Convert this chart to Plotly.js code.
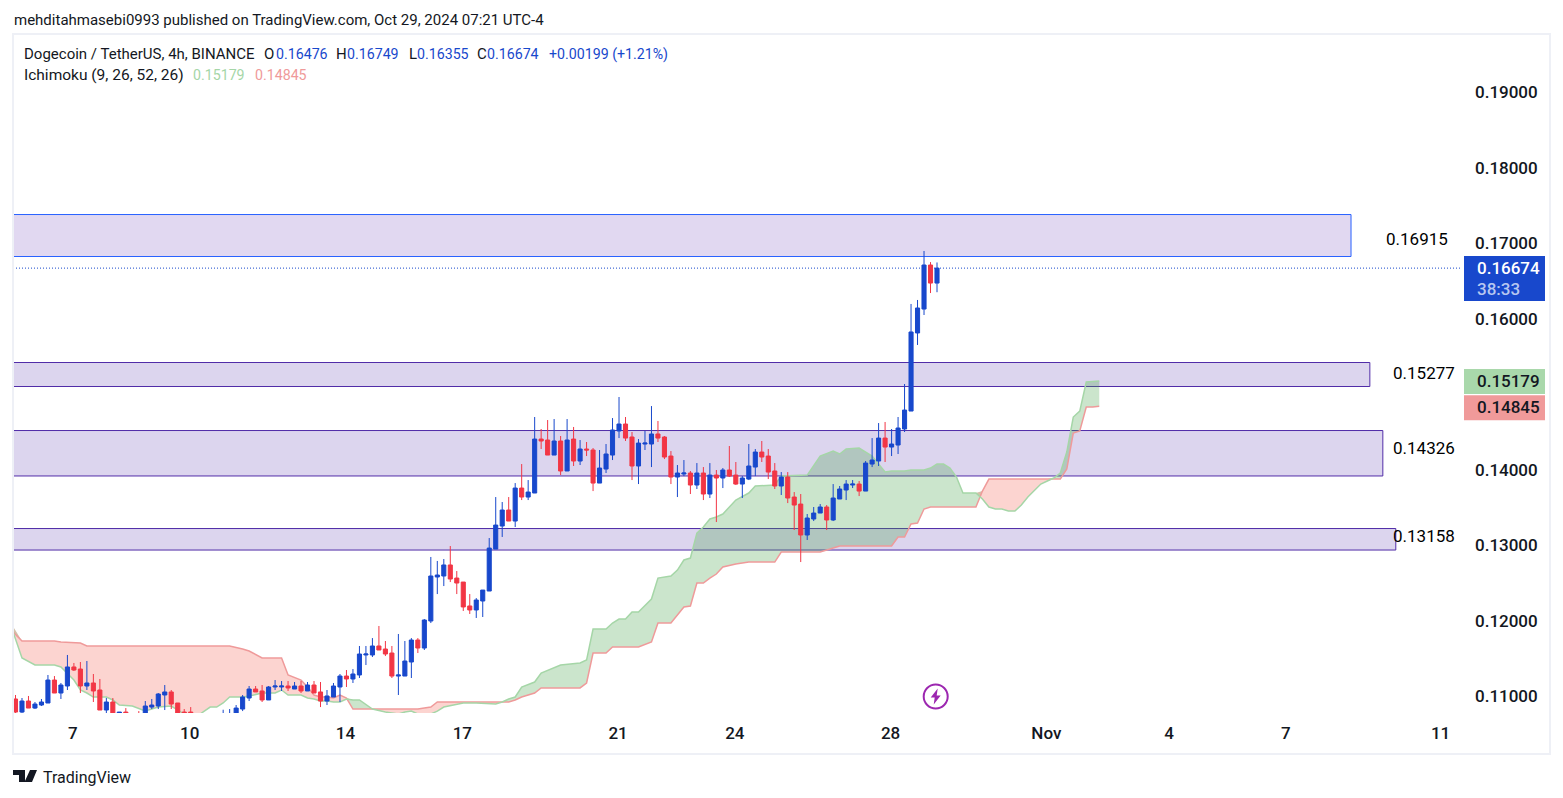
<!DOCTYPE html>
<html><head><meta charset="utf-8">
<script src="https://cdn.plot.ly/plotly-3.0.1.min.js"></script>
<style>html,body{margin:0;padding:0;background:#fff}#c{width:1563px;height:798px}</style>
</head><body><div id="c"></div>
<script>
const opens=[.10967,.10794,.10940,.10847,.10887,.10914,.11218,.11046,.11139,.11391,
.11364,.11139,.11179,.11086,.10821,.10927,.10741,.10794,.10754,.10768,
.10741,.10860,.10874,.11020,.11060,.10914,.10794,.10794,.10760,.10700,
.10740,.10710,.10720,.10750,.10760,.10834,.10980,.11099,.11073,.10954,
.11126,.11126,.11139,.11099,.11139,.11073,.11152,.11060,.10940,.10993,
.11126,.11271,.11232,.11285,.11550,.11550,.11669,.11629,.11576,.11271,
.11271,.11457,.11748,.11642,.12000,.12583,.12596,.12742,.12569,.12516,
.12199,.12146,.12265,.12397,.12953,.13258,.13470,.13324,.13761,.13642,
.13695,.14410,.14397,.14198,.14384,.13987,.14410,.14119,.14278,.14265,
.13827,.14013,.14198,.14517,.14609,.14437,.14053,.14344,.14344,.14477,
.14437,.14185,.13907,.13947,.13960,.13801,.13960,.13682,.13933,.13894,
.14000,.13933,.13814,.13880,.14039,.14238,.14185,.13987,.13788,.13907,
.13642,.13549,.13139,.13351,.13430,.13510,.13338,.13616,.13735,.13801,
.13814,.13721,.14079,.14119,.14423,.14304,.14331,.14543,.14781,.15815,
.16132,.16715,.16476];
const highs=[.11020,.10980,.11007,.10927,.10967,.11285,.11271,.11179,.11550,.11444,
.11457,.11470,.11298,.11232,.10980,.10980,.10794,.10847,.10760,.10807,
.10940,.10967,.11046,.11152,.11086,.10914,.10834,.10860,.10770,.10760,
.10770,.10765,.10825,.10834,.10887,.11020,.11139,.11139,.11152,.11139,
.11218,.11205,.11205,.11192,.11205,.11192,.11205,.11192,.11086,.11179,
.11298,.11351,.11364,.11669,.11669,.11774,.11934,.11735,.11669,.11828,
.11735,.11774,.11774,.12026,.12848,.12795,.12821,.12993,.12662,.12516,
.12357,.12304,.12410,.13099,.13642,.13576,.13642,.13827,.14079,.13867,
.14702,.14543,.14662,.14675,.14450,.14675,.14570,.14397,.14371,.14291,
.14265,.14344,.14688,.14967,.14702,.14503,.14410,.14517,.14847,.14649,
.14450,.14251,.14066,.14132,.13987,.14092,.14039,.14092,.14000,.14026,
.14318,.14106,.13920,.14344,.14278,.14384,.14278,.14092,.13973,.13973,
.13708,.13682,.13417,.13510,.13549,.13536,.13814,.13788,.13867,.13867,
.13854,.14119,.14423,.14622,.14636,.14543,.14702,.15139,.16199,.16252,
.16901,.16754,.16749];
const lows=[.10781,.10768,.10847,.10834,.10874,.10914,.11046,.10967,.11086,.11338,
.11046,.11086,.10927,.10821,.10781,.10741,.10715,.10715,.10688,.10701,
.10715,.10834,.10834,.10821,.10834,.10768,.10741,.10741,.10690,.10680,
.10690,.10680,.10700,.10720,.10740,.10807,.10940,.11060,.10927,.10954,
.11086,.11073,.11073,.11099,.11046,.11073,.11046,.10860,.10887,.10993,
.10927,.11126,.11179,.11245,.11417,.11523,.11616,.11536,.11245,.11020,
.11271,.11245,.11576,.11616,.11973,.12357,.12463,.12516,.12357,.12133,
.12093,.12040,.12053,.12397,.12953,.13113,.13324,.13245,.13602,.13602,
.13695,.14278,.14198,.14198,.13933,.13987,.14053,.14066,.14185,.13721,
.13827,.13960,.14132,.14423,.14384,.13867,.13814,.14265,.14039,.14371,
.14145,.13814,.13642,.13920,.13682,.13748,.13602,.13629,.13311,.13761,
.13907,.13801,.13629,.13867,.13920,.14106,.13880,.13748,.13669,.13562,
.13205,.12781,.13073,.13324,.13430,.13205,.13324,.13616,.13602,.13761,
.13655,.13721,.14039,.14053,.14106,.14185,.14212,.14503,.14781,.15656,
.16053,.16344,.16355];
const closes=[.10794,.10940,.10847,.10900,.10927,.11218,.11046,.11152,.11391,.11351,
.11139,.11179,.11073,.10821,.10927,.10754,.10794,.10741,.10715,.10715,
.10874,.10887,.11033,.11060,.10900,.10781,.10781,.10768,.10720,.10740,
.10710,.10750,.10770,.10775,.10847,.10993,.11099,.11060,.10954,.11126,
.11139,.11139,.11113,.11139,.11073,.11152,.11046,.10940,.11007,.11139,
.11271,.11232,.11298,.11563,.11563,.11669,.11616,.11563,.11271,.11285,
.11470,.11748,.11642,.12013,.12596,.12609,.12742,.12556,.12503,.12186,
.12146,.12278,.12410,.12966,.13271,.13470,.13324,.13761,.13642,.13708,
.14410,.14384,.14198,.14384,.13987,.14397,.14119,.14278,.14265,.13827,
.14026,.14212,.14530,.14609,.14423,.14053,.14357,.14357,.14477,.14423,
.14172,.13907,.13960,.13960,.13801,.13960,.13682,.13933,.13894,.14000,
.13920,.13814,.13894,.14053,.14238,.14172,.13973,.13788,.13907,.13629,
.13536,.13139,.13364,.13430,.13510,.13338,.13629,.13748,.13814,.13814,
.13721,.14092,.14132,.14423,.14304,.14344,.14556,.14794,.15828,.16146,
.16715,.16476,.16674];
const cloudBars=[-1,1,3,6,7,9,10,11,12,14,15,16,18,20,22,24,26,28,30,31,32,33,35,36,38,40,41,42,44,45,46,47,48,49,50,51,52,53,55,57,59,60,61,62,64,65,66,69,71,73,74,75,76,77,78,80,81,84,87,88,89,91,92,93,94,95,96,98,99,101,102,103,104,105,106,107,108,109,111,113,114,117,118,122,124,126,127,128,130,132,134,135,136,137,138,139,140,141,142,143,144,145,146,148,149,150,151,152,153,154,155,156,157,158,159,160,161,162,163,164,165,166,167];
const spanA=[.12013,.11510,.11417,.11417,.11391,.11218,.11086,.11046,.10993,.10993,.10954,.10887,.10874,.10807,.10860,.10874,.10768,.10741,.10860,.10860,.10914,.10993,.10993,.11007,.11046,.11046,.11086,.11020,.11020,.10980,.10967,.10940,.10940,.10927,.10927,.10967,.10954,.10954,.10834,.10794,.10768,.10794,.10807,.10768,.10768,.10807,.10860,.10914,.10914,.10900,.10900,.10927,.10967,.10993,.11126,.11192,.11311,.11417,.11444,.11483,.11894,.11894,.11973,.12026,.12026,.12119,.12119,.12291,.12569,.12596,.12675,.12808,.12834,.13165,.13245,.13351,.13377,.13417,.13602,.13695,.13788,.13801,.13920,.13933,.14185,.14251,.14212,.14278,.14291,.14185,.13973,.13987,.13987,.13987,.14000,.14000,.14000,.14026,.14079,.14079,.14026,.13907,.13695,.13695,.13616,.13509,.13483,.13483,.13456,.13456,.13536,.13642,.13735,.13814,.13854,.13894,.13960,.14238,.14702,.14781,.15165,.15172,.15179];
const spanB=[.11907,.11735,.11735,.11735,.11722,.11709,.11709,.11669,.11669,.11669,.11669,.11669,.11669,.11669,.11669,.11669,.11669,.11669,.11669,.11669,.11669,.11669,.11629,.11603,.11510,.11510,.11510,.11285,.11218,.11126,.11020,.10993,.10993,.10980,.11020,.10980,.10834,.10834,.10834,.10834,.10834,.10834,.10834,.10834,.10860,.10927,.10927,.10927,.10927,.10927,.10927,.10927,.10927,.10954,.10993,.11046,.11113,.11113,.11113,.11179,.11576,.11576,.11656,.11656,.11656,.11656,.11656,.11722,.11973,.11973,.12079,.12186,.12199,.12503,.12503,.12569,.12622,.12715,.12755,.12781,.12781,.12781,.12914,.12914,.12914,.12966,.12993,.12993,.12993,.12993,.12993,.12993,.13112,.13112,.13285,.13298,.13483,.13509,.13509,.13509,.13509,.13509,.13509,.13509,.13721,.13880,.13880,.13880,.13880,.13880,.13880,.13880,.13880,.13880,.13880,.13880,.13880,.14013,.14490,.14517,.14834,.14834,.14845];
const zones=[
 {lo:.16828,hi:.17384,end:205.8,line:'#2962ff',fill:'rgba(103,58,183,.2)',label:'0.16915',ly:.17065},
 {lo:.15106,hi:.15424,end:208.7,line:'#512da8',fill:'rgba(81,45,168,.2)',label:'0.15277',ly:.15290},
 {lo:.13921,hi:.14523,end:210.7,line:'#512da8',fill:'rgba(81,45,168,.2)',label:'0.14326',ly:.14296},
 {lo:.12940,hi:.13225,end:212.7,line:'#512da8',fill:'rgba(81,45,168,.2)',label:'0.13158',ly:.13126}];
const dayBars=[8.85,26.85,50.85,68.85,92.85,110.85,134.85,158.85,177.75,195.75,219.6];
const dayLabels=['7','10','14','17','21','24','28','Nov','4','7','11'];
const yTicks=[.11,.12,.13,.14,.16,.17,.18,.19];
const lastPrice=.16674, tagA=.15179, tagB=.14845;

const W=1563,H=798,L=13,R=1462,T=34,B=713;
const fx=p=>(p-L)/(R-L), fy=p=>(B-p)/(B-T);
const bars=opens.map((_,i)=>i);
const xr=[-0.385,222.9], yr=[.107815,.19775];
const cloudTop=spanA.map((a,i)=>Math.max(a,spanB[i]));
const FONT='Roboto, sans-serif', INK='#131722', BLUE='#1848cc';
const hid={mode:'lines',line:{width:0},hoverinfo:'skip',showlegend:false,x:cloudBars};
const traces=[
 {...hid,y:spanB},
 {...hid,y:cloudTop,fill:'tonexty',fillcolor:'rgba(67,160,71,.28)'},
 {...hid,y:spanA},
 {...hid,y:cloudTop,fill:'tonexty',fillcolor:'rgba(244,67,54,.23)'},
 {x:cloudBars,y:spanB,mode:'lines',line:{color:'#ef9a9a',width:1.5},hoverinfo:'skip',showlegend:false},
 {x:cloudBars,y:spanA,mode:'lines',line:{color:'#a5d6a7',width:1.5},hoverinfo:'skip',showlegend:false},
 {type:'candlestick',x:bars,open:opens,high:highs,low:lows,close:closes,xaxis:'x2',yaxis:'y2',
  whiskerwidth:0,hoverinfo:'skip',showlegend:false,
  increasing:{line:{color:BLUE,width:1},fillcolor:BLUE},
  decreasing:{line:{color:'#f23645',width:1},fillcolor:'#f23645'}}
];
const shapes=zones.map(z=>({type:'rect',layer:'below',xref:'x',yref:'y',x0:-10,x1:z.end,y0:z.lo,y1:z.hi,fillcolor:z.fill,line:{color:z.line,width:1}}));
shapes.push({type:'line',layer:'below',xref:'paper',yref:'y',x0:0,x1:1,y0:lastPrice,y1:lastPrice,line:{color:BLUE,width:1,dash:'1px,2px'}});
// frame
shapes.push({type:'rect',layer:'above',xref:'paper',yref:'paper',x0:fx(13),x1:fx(1550),y0:fy(754),y1:fy(34),fillcolor:'rgba(0,0,0,0)',line:{color:'#eef0f6',width:2}});
// price tags
const tag=(p,h0,h1,c)=>({type:'rect',layer:'above',xref:'paper',xsizemode:'pixel',xanchor:1,x0:2,x1:83,yref:'y',ysizemode:'pixel',yanchor:p,y0:h0,y1:h1,fillcolor:c,line:{width:0}});
shapes.push(tag(lastPrice,12,-33,'#1848cc'));
shapes.push(tag(tagA,12,-13,'#a9d8ab'));
shapes.push(tag(tagB,11,-14,'#f09a9a'));
// bolt icon
const boltBar=141.8, boltP=.11;
shapes.push({type:'circle',layer:'above',xref:'x',xsizemode:'pixel',xanchor:boltBar,x0:-12,x1:12,yref:'y',ysizemode:'pixel',yanchor:boltP,y0:-12,y1:12,fillcolor:'#fff',line:{color:'#9c27b0',width:2}});
shapes.push({type:'path',layer:'above',xref:'x',xsizemode:'pixel',xanchor:boltBar,yref:'y',ysizemode:'pixel',yanchor:boltP,path:'M 2 8 L -5 -1 L -1 -1 L -2 -8 L 5 1 L 1 1 Z',fillcolor:'#9c27b0',line:{width:0}});
// TradingView mark
shapes.push({type:'path',layer:'above',xref:'paper',xsizemode:'pixel',xanchor:0,yref:'paper',ysizemode:'pixel',yanchor:0,
 path:'M 0 -57 L 12 -57 L 12 -69 L 6 -69 L 6 -62 L 0 -62 Z',fillcolor:'#131722',line:{width:0}});
shapes.push({type:'path',layer:'above',xref:'paper',xsizemode:'pixel',xanchor:0,yref:'paper',ysizemode:'pixel',yanchor:0,
 path:'M 24 -57 L 17 -57 L 11.5 -69 L 19 -69 Z M 12.5 -59.5 a 2.5 2.5 0 1 1 0.01 0 Z',fillcolor:'#131722',line:{width:0}});

const txt=(t,px,py,size,color,weight)=>({text:t,xref:'paper',yref:'paper',x:fx(px),y:fy(py),xanchor:'left',yanchor:'middle',showarrow:false,font:{family:FONT,size:size,color:color,weight:weight||400},borderpad:0,align:'left'});
const ann=[
 txt('mehditahmasebi0993 published on TradingView.com, Oct 29, 2024 07:21 UTC-4',13,20,15,INK),
 txt('Dogecoin / TetherUS, 4h, BINANCE',23,54,15,INK),
 txt('O',263,54,15,INK),txt('0.16476',275,54,14.2,BLUE),
 txt('H',335,54,15,INK),txt('0.16749',346,54,14.2,BLUE),
 txt('L',408,54,15,INK),txt('0.16355',416,54,14.2,BLUE),
 txt('C',476,54,15,INK),txt('0.16674',486,54,14.2,BLUE),
 txt('+0.00199 (+1.21%)',548,54,14.2,BLUE),
 txt('Ichimoku (9, 26, 52, 26)',23,75,15.5,INK),
 txt('0.15179',192,75,14.2,'#a5d6a7'),txt('0.14845',254,75,14.2,'#ef9a9a'),
 txt('TradingView',42,777,16,INK),
 txt('0.16674',1476,268,17,'#ffffff',500),
 txt('38:33',1476,289,17,'#b7c7f0',500),
 txt('0.15179',1476,381,17,INK,500),
 txt('0.14845',1476,407,17,INK,500)
];
zones.forEach((z,i)=>ann.push({text:z.label,xref:'x',yref:'y',x:i===0?211.05:212.05,y:z.ly,xanchor:'left',yanchor:'middle',showarrow:false,font:{family:FONT,size:17,color:'#000',weight:400},borderpad:0}));

const tickF={family:FONT,size:17,color:INK,weight:500};
const layout={width:W,height:H,margin:{l:L,r:W-R,t:T,b:H-B,pad:0},paper_bgcolor:'#fff',plot_bgcolor:'#fff',showlegend:false,
 font:{family:FONT,color:INK},
 xaxis:{range:xr,tickmode:'array',tickvals:dayBars,ticktext:dayLabels,showgrid:false,zeroline:false,showline:false,ticks:'',ticklabelstandoff:8,tickfont:tickF,fixedrange:true},
 yaxis:{range:yr,side:'right',tickmode:'array',tickvals:yTicks,ticktext:yTicks.map(v=>v.toFixed(5)),showgrid:false,zeroline:false,showline:false,ticks:'',ticklabelstandoff:12,tickfont:tickF,fixedrange:true},
 xaxis2:{range:xr,overlaying:'x',visible:false,fixedrange:true,rangeslider:{visible:false}},
 yaxis2:{range:yr,overlaying:'y',visible:false,fixedrange:true,side:'right'},
 boxgap:0.1,shapes:shapes,annotations:ann};
Plotly.newPlot('c',traces,layout,{displayModeBar:false,staticPlot:true});
</script></body></html>
